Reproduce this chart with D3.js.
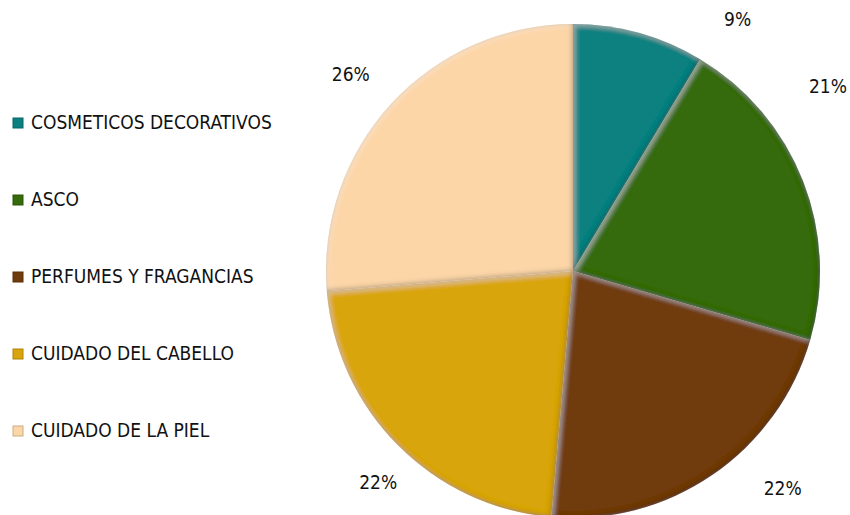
<!DOCTYPE html>
<html>
<head>
<meta charset="utf-8">
<script src="https://cdn.jsdelivr.net/npm/d3@7"></script>
<style>
  body { margin: 0; background: #fff; }
  svg text { font-family: "Liberation Sans Narrow", "DejaVu Sans Condensed", sans-serif; fill: #111; }
</style>
</head>
<body>
<svg id="chart" width="850" height="515"></svg>
<script>
// chart values (share of each category)
var categories = ['COSMETICOS DECORATIVOS', 'ASCO', 'PERFUMES Y FRAGANCIAS', 'CUIDADO DEL CABELLO', 'CUIDADO DE LA PIEL'];
var shares = [8.6, 20.9, 21.9, 22.3, 26.3];
var labels = ['9%', '21%', '22%', '22%', '26%'];
var colors = ['#0b8080', '#366b0b', '#6f3a0c', '#d9a50c', '#fcd6a7'];

var svg = d3.select('#chart');
var cx = 573, cy = 271, radius = 247;

var defs = svg.append('defs');

// inner shadow + soft highlight so the slices look bevelled
var bevel = defs.append('filter').attr('id', 'bevel');
bevel.append('feComponentTransfer').attr('in', 'SourceAlpha').attr('result', 'inv')
  .append('feFuncA').attr('type', 'table').attr('tableValues', '1 0');
bevel.append('feGaussianBlur').attr('in', 'inv').attr('stdDeviation', 2.5).attr('result', 'blur');
bevel.append('feOffset').attr('in', 'blur').attr('dx', -1.5).attr('dy', -1.5).attr('result', 'offDark');
bevel.append('feOffset').attr('in', 'blur').attr('dx', 2).attr('dy', 2).attr('result', 'offLight');
bevel.append('feFlood').attr('flood-color', '#000').attr('flood-opacity', 0.55).attr('result', 'dark');
bevel.append('feComposite').attr('in', 'dark').attr('in2', 'offDark').attr('operator', 'in').attr('result', 'darkEdge');
bevel.append('feComposite').attr('in', 'darkEdge').attr('in2', 'SourceAlpha').attr('operator', 'in').attr('result', 'darkIn');
bevel.append('feFlood').attr('flood-color', '#fff').attr('flood-opacity', 0.35).attr('result', 'light');
bevel.append('feComposite').attr('in', 'light').attr('in2', 'offLight').attr('operator', 'in').attr('result', 'lightEdge');
bevel.append('feComposite').attr('in', 'lightEdge').attr('in2', 'SourceAlpha').attr('operator', 'in').attr('result', 'lightIn');
var merge = bevel.append('feMerge');
merge.append('feMergeNode').attr('in', 'SourceGraphic');
merge.append('feMergeNode').attr('in', 'lightIn');
merge.append('feMergeNode').attr('in', 'darkIn');

var pie = d3.pie().sort(null).value(d => d).startAngle(0).endAngle(2 * Math.PI);
var arcs = pie(shares);

var arc = d3.arc().innerRadius(0).outerRadius(radius);

var g = svg.append('g').attr('transform', 'translate(' + cx + ',' + cy + ')');

g.selectAll('path.slice')
  .data(arcs)
  .enter()
  .append('path')
  .attr('class', 'slice')
  .attr('d', arc)
  .attr('fill', (d, i) => colors[i])
  .attr('filter', 'url(#bevel)');

// data labels, placed outside the pie like the best-fit labels
var labelRadius = [300, 314, 303, 288, 296];
var labelShift = [17.8, -14.3, -9.4, -2.6, -1.3]; // degrees
g.selectAll('text.pct')
  .data(arcs)
  .enter()
  .append('text')
  .attr('class', 'pct')
  .attr('transform', (d, i) => {
    var a = (d.startAngle + d.endAngle) / 2 + labelShift[i] * Math.PI / 180;
    return 'translate(' + (labelRadius[i] * Math.sin(a)) + ',' + (-labelRadius[i] * Math.cos(a)) + ')';
  })
  .attr('text-anchor', 'middle')
  .attr('dominant-baseline', 'middle')
  .style('font-size', '19px')
  .text((d, i) => labels[i]);

// legend
var legendY = d3.scalePoint().domain(categories).range([123, 431]);

var legend = svg.append('g').attr('class', 'legend');

var item = legend.selectAll('g')
  .data(categories)
  .enter()
  .append('g')
  .attr('transform', d => 'translate(13,' + legendY(d) + ')');

item.append('rect')
  .attr('x', 0).attr('y', -5)
  .attr('width', 10).attr('height', 10)
  .attr('fill', (d, i) => colors[i])
  .attr('stroke', (d, i) => d3.color(colors[i]).darker(0.6))
  .attr('stroke-width', 1);

item.append('text')
  .attr('x', 18)
  .attr('dominant-baseline', 'middle')
  .style('font-size', '19px')
  .text(d => d);
</script>
</body>
</html>
